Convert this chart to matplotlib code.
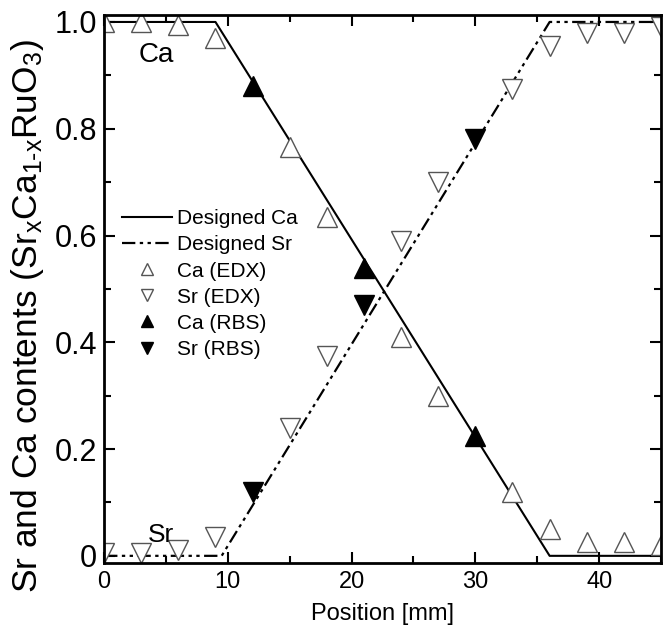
import matplotlib.pyplot as plt
from matplotlib.ticker import MultipleLocator, FixedFormatter, FixedLocator

plt.rcParams['font.family'] = ['Liberation Sans', 'DejaVu Sans']
plt.rcParams['mathtext.fontset'] = 'custom'
plt.rcParams['mathtext.rm'] = 'Liberation Sans'
plt.rcParams['mathtext.it'] = 'Liberation Sans'

# designed composition profiles
design_x = [0, 9, 36, 45]
design_ca = [1, 1, 0, 0]
design_sr_x = [0, 9.5, 36, 45]
design_sr = [0, 0, 1, 1]

# EDX measurements
edx_x = [0, 3, 6, 9, 15, 18, 24, 27, 33, 36, 39, 42, 45]
edx_ca = [1.0, 1.0, 0.995, 0.97, 0.765, 0.635, 0.41, 0.30, 0.12, 0.05, 0.025, 0.025, 0.02]
edx_sr = [0.005, 0.005, 0.01, 0.035, 0.24, 0.375, 0.59, 0.70, 0.875, 0.955, 0.98, 0.98, 0.99]

# RBS measurements
rbs_x = [12, 21, 30]
rbs_ca = [0.88, 0.54, 0.225]
rbs_sr = [0.12, 0.47, 0.78]

fig = plt.figure(figsize=(6.63, 6.26), dpi=100)
ax = fig.add_axes([0.157, 0.101, 0.84, 0.875])

ax.plot(design_x, design_ca, '-', color='black', lw=1.5, label='Designed Ca')
ax.plot(design_sr_x, design_sr, color='black', lw=1.6, ls=(0, (6, 2, 1.5, 2, 1.5, 2)), label='Designed Sr')
ax.plot(edx_x, edx_ca, '^', ms=14, mfc='white', mec='#555555', mew=1.0, ls='none', label='Ca (EDX)')
ax.plot(edx_x, edx_sr, 'v', ms=14, mfc='white', mec='#555555', mew=1.0, ls='none', label='Sr (EDX)')
ax.plot(rbs_x, rbs_ca, '^', ms=14, mfc='black', mec='black', ls='none', label='Ca (RBS)')
ax.plot(rbs_x, rbs_sr, 'v', ms=14, mfc='black', mec='black', ls='none', label='Sr (RBS)')

ax.set_xlim(0, 45)
ax.set_ylim(-0.013, 1.013)

ax.xaxis.set_major_locator(MultipleLocator(10))
ax.xaxis.set_minor_locator(MultipleLocator(5))
ax.yaxis.set_major_locator(FixedLocator([0, 0.2, 0.4, 0.6, 0.8, 1.0]))
ax.yaxis.set_major_formatter(FixedFormatter(['0', '0.2', '0.4', '0.6', '0.8', '1.0']))
ax.yaxis.set_minor_locator(MultipleLocator(0.1))
ax.tick_params(which='both', direction='in', top=True, right=True, width=1.5)
ax.tick_params(which='major', length=8)
ax.tick_params(which='minor', length=5)
ax.tick_params(axis='x', labelsize=17, pad=6)
ax.tick_params(axis='y', labelsize=22, pad=5)
for s in ax.spines.values():
    s.set_linewidth(2)

ax.set_xlabel('Position [mm]', fontsize=17, labelpad=7)
ax.set_ylabel(r'Sr and Ca contents (Sr$_x$Ca$_{1\text{-}x}$RuO$_3$)', fontsize=25.5)
ax.yaxis.set_label_coords(-0.105, 0.45)

ax.text(2.8, 0.925, 'Ca', fontsize=20)
ax.text(3.5, 0.026, 'Sr', fontsize=19)

ax.legend(loc='upper left', bbox_to_anchor=(0.01, 0.668), frameon=False, fontsize=15,
          handlelength=2.4, handletextpad=0.25, labelspacing=0.34, borderaxespad=0.2,
          markerscale=0.6)

fig.savefig('out.png', dpi=100)
